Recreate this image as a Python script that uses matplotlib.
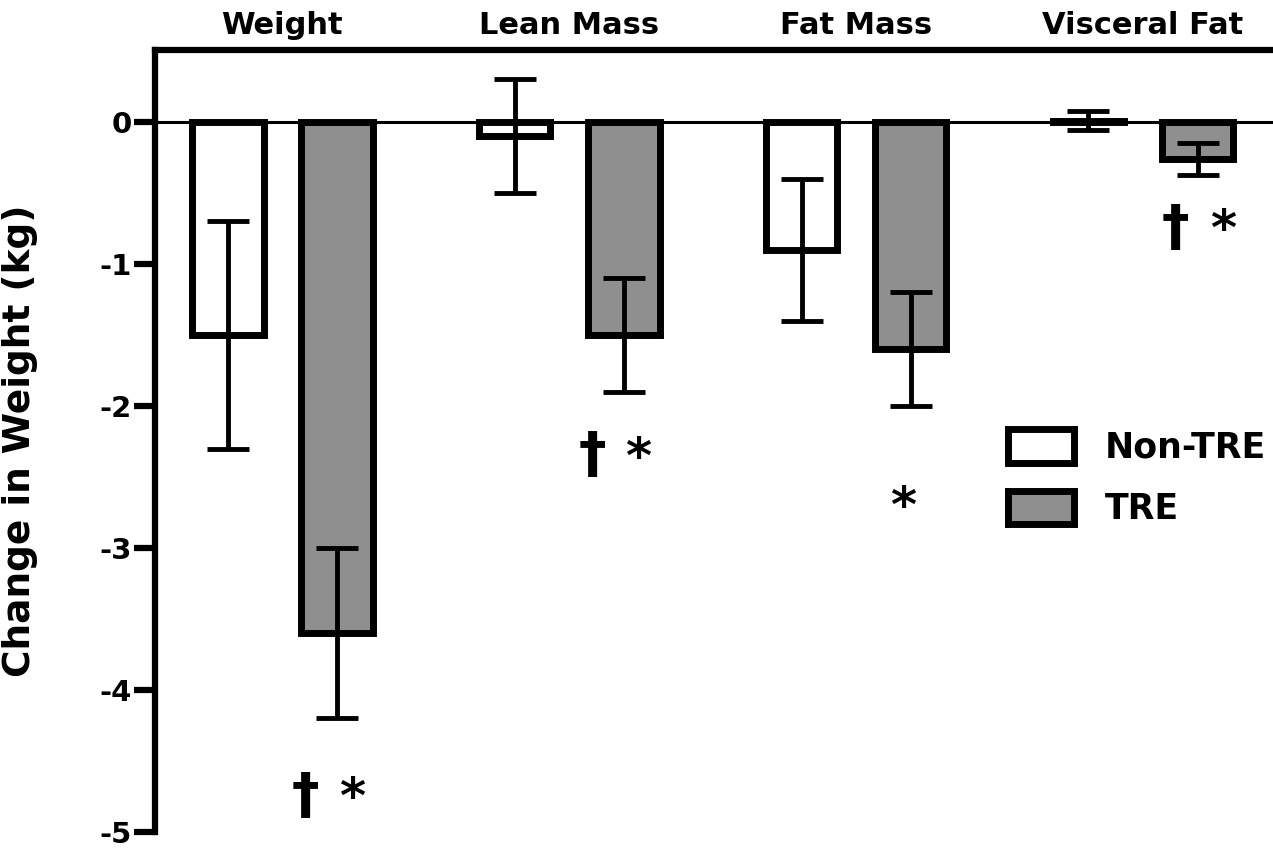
import matplotlib
matplotlib.use("Agg")
import matplotlib.pyplot as plt
from matplotlib.patches import Patch
import numpy as np

categories = ["Weight", "Lean Mass", "Fat Mass", "Visceral Fat"]
non_tre_mean = [-1.5, -0.1, -0.9, 0.01]
non_tre_err = [0.8, 0.4, 0.5, 0.065]
tre_mean = [-3.6, -1.5, -1.6, -0.26]
tre_err = [0.6, 0.4, 0.4, 0.11]
dagger_marks = [True, True, False, True]
star_marks = [True, True, True, True]
annot_y = [-4.75, -2.35, -2.7, -0.75]
yticks = [0, -1, -2, -3, -4, -5]

plt.rcParams['font.family'] = ['DejaVu Sans']
plt.rcParams['font.weight'] = 'bold'

fig = plt.figure(figsize=(12.73, 8.49), dpi=100)
ax = fig.add_axes([0.1218, 0.02, 0.8782, 0.921])

x = np.arange(len(categories))
off = 0.19
w = 0.25
grey = '#8f8f8f'
lw_edge = 5
ax.bar(x - off, non_tre_mean, w, color='white', edgecolor='black', linewidth=lw_edge, zorder=2)
ax.bar(x + off, tre_mean, w, color=grey, edgecolor='black', linewidth=lw_edge, zorder=2)
ekw = dict(fmt='none', ecolor='black', elinewidth=3.5, capsize=15, capthick=3.5, zorder=3)
eb1 = ax.errorbar(x - off, non_tre_mean, yerr=non_tre_err, **ekw)
eb2 = ax.errorbar(x + off, tre_mean, yerr=tre_err, **ekw)
for eb in (eb1, eb2):
    for c in eb[1]:
        c.set_solid_capstyle('round')

ax.axhline(0, color='black', linewidth=2.2, zorder=1)

ax.set_xlim(-0.443, 3.453)
ax.set_ylim(-5, 0.507)
ax.set_yticks(yticks)
ax.set_yticklabels([str(t) for t in yticks], fontsize=21, fontweight='bold')
ax.tick_params(axis='y', length=15, width=4.5, pad=2)
ax.set_xticks([])
ax.spines['right'].set_visible(False)
ax.spines['bottom'].set_visible(False)
ax.spines['left'].set_linewidth(4.5)
ax.spines['top'].set_linewidth(4.5)

for i, c in enumerate(categories):
    ax.text(x[i], 1.0 + 0.013, c, transform=ax.get_xaxis_transform(),
            ha='center', va='bottom', fontsize=22, fontweight='bold')

for i in range(len(categories)):
    if dagger_marks[i]:
        dx = -0.108 if i < 3 else -0.077
        ax.text(x[i] + off + dx, annot_y[i], "†", ha='center', va='center',
                fontsize=40, fontweight='bold')
    if star_marks[i]:
        if dagger_marks[i]:
            dx = 0.052 if i < 3 else 0.09
        else:
            dx = -0.025
        ax.text(x[i] + off + dx, annot_y[i] - 0.02, "*", ha='center', va='center',
                fontsize=36, fontweight='bold')

ax.set_ylabel("Change in Weight (kg)", fontsize=27, fontweight='bold')
ax.yaxis.set_label_coords(-0.105, 0.5)

handles = [Patch(facecolor='white', edgecolor='black', linewidth=5, label='Non-TRE'),
           Patch(facecolor=grey, edgecolor='black', linewidth=5, label='TRE')]
ax.legend(handles=handles, loc='upper left', bbox_to_anchor=(0.735, 0.555), frameon=False,
          prop={'size': 25, 'weight': 'bold'}, handlelength=1.9, handleheight=1.1,
          labelspacing=0.75, handletextpad=0.9)

fig.savefig("out.png", dpi=100)
